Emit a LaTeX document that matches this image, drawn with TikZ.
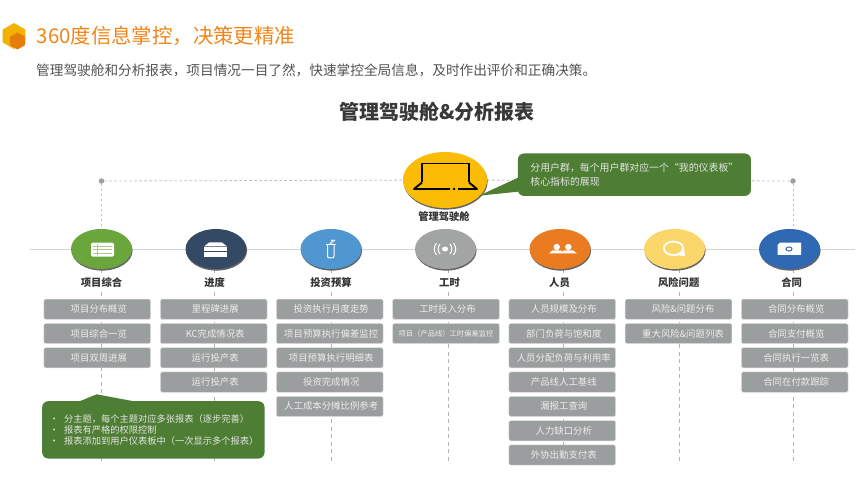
\documentclass[tikz,border=0pt]{standalone}
\usepackage{fontspec}
\setmainfont{Noto Sans CJK SC}
\usepackage{tikz}
\usetikzlibrary{shapes.geometric, positioning, backgrounds, shadows}
\definecolor{headorange}{RGB}{240,133,25}
\definecolor{hexyellow}{RGB}{242,179,0}
\definecolor{hexorange}{RGB}{230,125,10}
\definecolor{calloutgreen}{RGB}{78,125,52}
\definecolor{repgray}{RGB}{155,158,158}
\definecolor{linegray}{RGB}{178,178,178}
\definecolor{c1green}{RGB}{106,166,59}
\definecolor{c2navy}{RGB}{52,74,100}
\definecolor{c3blue}{RGB}{80,150,208}
\definecolor{c4gray}{RGB}{163,165,164}
\definecolor{c5orange}{RGB}{235,123,32}
\definecolor{c6yellow}{RGB}{251,214,106}
\definecolor{c7blue}{RGB}{47,105,180}
\definecolor{cockpit}{RGB}{251,188,5}

\begin{document}
\begin{tikzpicture}[
    x=1pt, y=-1pt,
    topic/.style ={ellipse, minimum width=61pt, minimum height=40pt, inner sep=0pt,
                   drop shadow={opacity=1, fill=black!60, shadow xshift=0.6pt, shadow yshift=-1.6pt}},
    topiclbl/.style={font=\fontsize{10.3}{12}\selectfont\bfseries, text=black!80, fill=white,
                   inner sep=1pt},
    rep/.style   ={rectangle, rounded corners=1.5pt, fill=repgray, draw=black!12, line width=0.5pt,
                   minimum width=106.7pt, minimum height=20.3pt, inner sep=0pt, outer sep=0pt,
                   text=white!93!black, font=\fontsize{9.4}{11}\selectfont,
                   execute at begin node=\hspace*{3pt}},
    note/.style  ={rectangle, rounded corners=6pt, fill=calloutgreen, inner sep=0pt,
                   text=white!90!black, align=left},
    guide/.style ={linegray, dash pattern=on 4pt off 3.5pt, line width=0.7pt},
    toplink/.style={linegray!85, dash pattern=on 2.5pt off 2.5pt, line width=0.8pt},
    dotpt/.style ={circle, fill=black!38, minimum size=5.5pt, inner sep=0pt},
    ic/.style    ={white, line width=1pt}
]
\useasboundingbox (0,0) rectangle (865,494);

% ============================================================
% HEADER
% ============================================================
\node[regular polygon, regular polygon sides=6, shape border rotate=30, fill=hexyellow,
      minimum size=26pt, inner sep=0pt] (hexa) at (14,36) {};
\node[regular polygon, regular polygon sides=6, shape border rotate=30, fill=hexorange,
      minimum size=17pt, inner sep=0pt] (hexb) at (17.5,41) {};
\node[anchor=west, inner sep=0pt, text=headorange, font=\fontsize{20.4}{24}\selectfont]
      (head) at (36.5,36) {360度信息掌控，决策更精准};
\node[anchor=west, inner sep=0pt, text=black!68, font=\fontsize{13.66}{16}\selectfont]
      (sub) at (36,70) {管理驾驶舱和分析报表，项目情况一目了然，快速掌控全局信息，及时作出评价和正确决策。};
\node[inner sep=0pt, text=black!78, font=\fontsize{20}{24}\selectfont\bfseries]
      (title) at (437,112) {管理驾驶舱\&分析报表};

% ============================================================
% COCKPIT
% ============================================================
\node[topic, fill=cockpit, minimum width=84pt, minimum height=56pt] (cock) at (445,180) {};
\node[topiclbl] (cockl) at (444,217) {管理驾驶舱};
\node[dotpt] (dotl) at (101.5,181) {};
\node[dotpt] (dotr) at (793,181) {};

% laptop
\draw[black, line width=1.9pt] (422,182.5) -- (422,163.5) -- (469,163.5) -- (469,182.5);
\draw[black, line width=1.9pt, line join=round] (422,182.5) -- (414,189) -- (450,189);
\draw[black, line width=1.9pt, line join=round] (469,182.5) -- (477,189) -- (458,189);
\fill[black] (454,189) circle (1.3);

% ============================================================
% TOPICS
% ============================================================
\node[topic, fill=c1green]  (xm) at (101.5,249) {};
\node[topic, fill=c2navy]   (jd) at (216,249)   {};
\node[topic, fill=c3blue]   (tz) at (331,249)   {};
\node[topic, fill=c4gray]   (gs) at (445.5,249) {};
\node[topic, fill=c5orange] (ry) at (560,249)   {};
\node[topic, fill=c6yellow] (fx) at (674.5,249) {};
\node[topic, fill=c7blue]   (ht) at (789.5,249) {};

\node[topiclbl] (xml) at (101.5,282.5) {项目综合};
\node[topiclbl] (jdl) at (214.6,282.5) {进度};
\node[topiclbl] (tzl) at (331,282.5)   {投资预算};
\node[topiclbl] (gsl) at (449.5,282.5) {工时};
\node[topiclbl] (ryl) at (559.5,282.5) {人员};
\node[topiclbl] (fxl) at (678.7,282.5) {风险问题};
\node[topiclbl] (htl) at (791.7,282.5) {合同};

% icons
\fill[white, rounded corners=1.5pt] (91,242.7) rectangle (114,256.7);
\draw[c1green!60!white, line width=0.6pt] (93,246) -- (112,246) (93,249.5) -- (112,249.5) (93,253) -- (112,253) (97,244) -- (97,255);
\fill[white] (204,246.5) -- (209,242.5) -- (222,242.5) -- (227.3,246.5) -- cycle;
\fill[white] (204,247.5) rectangle (227.3,251.5);
\fill[white] (204,252.5) rectangle (227.3,256.7);
\draw[ic, rounded corners=2pt] (327.5,244.5) -- (327.5,258) -- (334,258) -- (334,244.5);
\draw[ic] (326,244.5) -- (335.5,244.5) (330,243.5) -- (335,240);
\fill[white] (332,240.5) circle (1.2);
\fill[white] (445,249) ellipse (3 and 2.5);
\draw[ic] (440,244) .. controls (437.5,247) and (437.5,251) .. (440,254);
\draw[ic] (436.5,243) .. controls (433.5,247) and (433.5,251) .. (436.5,255);
\draw[ic] (450,244) .. controls (452.5,247) and (452.5,251) .. (450,254);
\draw[ic] (453.5,243) .. controls (456.5,247) and (456.5,251) .. (453.5,255);
\fill[white] (556.7,247) circle (3.2);
\fill[white] (568.3,247) circle (3.2);
\fill[white] (549,253.5) -- (552,250.5) -- (561,250.5) -- (562,252) -- (563.5,250.5) -- (573,250.5) -- (577,253.5) -- cycle;
\draw[white, line width=2pt] (673.5,248.3) ellipse (9.5 and 6.7);
\fill[white] (673.5,255) -- (685,256) -- (684,248) -- cycle;
\fill[c6yellow] (673.5,248.3) ellipse (8.5 and 5.7);
\fill[white] (777.7,245) -- (780,242.7) -- (801,242.7) -- (801,255) -- (777.7,255) -- cycle;
\draw[c7blue, line width=1pt] (789,249) ellipse (3 and 2);

% ============================================================
% REPORT BOXES
% ============================================================
\node[rep] (a1) at (97.3,309.2)      {项目分布概览};
\node[rep, below=4pt of a1] (a2) {项目综合一览};
\node[rep, below=4pt of a2] (a3) {项目双周进展};

\node[rep] (b1) at (213.7,309.2)     {里程碑进展};
\node[rep, below=4pt of b1] (b2) {KC完成情况表};
\node[rep, below=4pt of b2] (b3) {运行投产表};
\node[rep, below=4pt of b3] (b4) {运行投产表};

\node[rep] (c1) at (329.7,309.2)     {投资执行月度走势};
\node[rep, below=4pt of c1] (c2) {项目预算执行偏差监控};
\node[rep, below=4pt of c2] (c3) {项目预算执行明细表};
\node[rep, below=4pt of c3] (c4) {投资完成情况};
\node[rep, below=4pt of c4] (c5) {人工成本分摊比例参考};

\node[rep] (d1) at (446,309.2)       {工时投入分布};
\node[rep, below=4pt of d1, font=\fontsize{7.3}{9}\selectfont] (d2) {\hspace*{-3pt}项目（产品线）工时偏差监控};

\node[rep] (e1) at (562.3,309.2)     {人员规模及分布};
\node[rep, below=4pt of e1] (e2) {部门负荷与饱和度};
\node[rep, below=4pt of e2] (e3) {人员分配负荷与利用率};
\node[rep, below=4pt of e3] (e4) {产品线人工基线};
\node[rep, below=4pt of e4] (e5) {漏报工查询};
\node[rep, below=4pt of e5] (e6) {人力缺口分析};
\node[rep, below=4pt of e6] (e7) {外协出勤支付表};

\node[rep] (f1) at (678.5,309.2)     {\hspace*{6pt}风险\&问题分布};
\node[rep, below=4pt of f1] (f2) {\hspace*{6pt}重大风险\&问题列表};

\node[rep] (g1) at (794.7,309.2)     {合同分布概览};
\node[rep, below=4pt of g1] (g2) {合同支付概览};
\node[rep, below=4pt of g2] (g3) {合同执行一览表};
\node[rep, below=4pt of g3] (g4) {合同在付款跟踪};

% ============================================================
% NOTES
% ============================================================
\node[note, anchor=north west, minimum width=233pt, minimum height=42.4pt,
      text width=221pt, font=\fontsize{9.9}{14}\selectfont]
      (nu) at (517.7,153.3) {\hspace*{6.5pt}分用户群，每个用户群对应一个“我的仪表板”\\\hspace*{6.5pt}核心指标的展现};
\coordinate (nua) at (518,177.7);
\coordinate (nub) at (518,191.7);
\coordinate (nut) at (479,195.7);
\fill[calloutgreen] (nua) -- (nut) -- (nub) -- cycle;

\coordinate (nda) at (79,401.5);
\coordinate (ndb) at (135,401.5);
\coordinate (ndt) at (96.7,394.3);
\node[note, anchor=north west, minimum width=222.3pt, minimum height=57.3pt, text width=210pt,
      font=\fontsize{9.25}{10.8}\selectfont]
      (nd) at (42,401) {\hspace*{1.2pt}•\hspace*{5.4pt}分主题，每个主题对应多张报表（逐步完善）\\\hspace*{1.2pt}•\hspace*{5.4pt}报表有严格的权限控制\\\hspace*{1.2pt}•\hspace*{5.4pt}报表添加到用户仪表板中（一次显示多个报表）};
\fill[calloutgreen] (nda) -- (ndt) -- (ndb) -- cycle;

% ============================================================
% LINES
% ============================================================
\coordinate (axl) at (30,249.5);
\coordinate (axr) at (855,249.5);
\coordinate (xme) at (101.5,463);
\coordinate (jde) at (214.6,463);
\coordinate (tze) at (331,463);
\coordinate (gse) at (448.7,463);
\coordinate (rye) at (563,463);
\coordinate (fxe) at (679,463);
\coordinate (hte) at (793,463);

\begin{scope}[on background layer]
% axis
\draw[black!17, line width=1.2pt] (axl) -- (axr);
% top links
\draw[toplink] (dotl) -- (cock);
\draw[toplink] (cock) -- (dotr);
\draw[toplink] (dotl) -- (xm);
\draw[toplink] (dotr) -- (dotr |- ht.north);
% columns
\draw[guide] (xme |- xm.south) -- (xme);
\draw[guide] (jde |- jd.south) -- (jde);
\draw[guide] (tze |- tz.south) -- (tze);
\draw[guide] (gse |- gs.south) -- (gse);
\draw[guide] (rye |- ry.south) -- (rye);
\draw[guide] (fxe |- fx.south) -- (fxe);
\draw[guide] (hte |- ht.south) -- (hte);
\end{scope}

\end{tikzpicture}
\end{document}
